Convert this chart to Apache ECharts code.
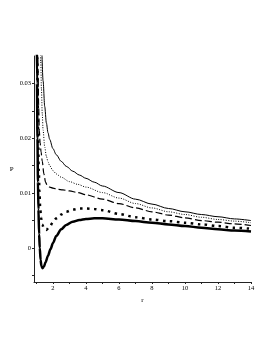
<!DOCTYPE html>
<html><head><meta charset="utf-8">
<script src="https://cdn.jsdelivr.net/npm/echarts@6/dist/echarts.min.js"></script>
<style>html,body{margin:0;padding:0;background:#fff}#c{width:273px;height:353px}</style>
</head><body><div id="c"></div>
<script>
// thin solid
var rA = [1.2, 1.3, 1.4, 1.5, 1.6, 1.7, 1.8, 2.0, 2.2, 2.5, 2.8, 3.2, 3.6, 4, 4.5, 5, 6, 7, 8, 9, 10, 11, 12, 13, 14];
var pA = [0.046, 0.037, 0.0305, 0.0258, 0.0228, 0.0210, 0.0198, 0.0181, 0.0170, 0.0158, 0.0149, 0.0140, 0.0133, 0.0127, 0.0120, 0.0113, 0.0101, 0.0089, 0.0080, 0.0072, 0.0066, 0.0061, 0.0057, 0.0053, 0.0050];
// small dotted
var rB = [1.18, 1.22, 1.26, 1.3, 1.35, 1.4, 1.5, 1.6, 1.7, 1.8, 2.0, 2.2, 2.5, 3.0, 3.5, 4, 5, 6, 7, 8, 9, 10, 11, 12, 13, 14];
var pB = [0.048, 0.040, 0.034, 0.029, 0.0245, 0.0215, 0.0184, 0.0167, 0.0157, 0.0150, 0.0141, 0.0135, 0.0129, 0.0121, 0.0116, 0.0111, 0.0101, 0.0091, 0.0081, 0.0073, 0.0066, 0.0061, 0.0056, 0.0052, 0.0049, 0.0046];
// dashed
var rC = [1.07, 1.1, 1.13, 1.17, 1.22, 1.28, 1.35, 1.45, 1.55, 1.65, 1.8, 2.0, 2.3, 2.6, 3.0, 3.5, 4, 5, 6, 7, 8, 9, 10, 11, 12, 13, 14];
var pC = [0.040, 0.032, 0.026, 0.0215, 0.0192, 0.0175, 0.0158, 0.0135, 0.0120, 0.0114, 0.0111, 0.0109, 0.0107, 0.0106, 0.0104, 0.0101, 0.0097, 0.0089, 0.0081, 0.0073, 0.0066, 0.0060, 0.0055, 0.0050, 0.0047, 0.0044, 0.0041];
// big dots
var rD = [1.04, 1.07, 1.1, 1.14, 1.18, 1.22, 1.28, 1.35, 1.45, 1.6, 1.8, 2.0, 2.2, 2.5, 2.8, 3.2, 3.6, 4, 4.5, 5, 6, 7, 8, 9, 10, 11, 12, 13, 14];
var pD = [0.040, 0.028, 0.020, 0.0140, 0.0105, 0.0075, 0.0055, 0.0043, 0.0036, 0.0033, 0.0039, 0.0047, 0.0054, 0.0061, 0.0066, 0.0070, 0.0072, 0.0072, 0.0071, 0.0069, 0.0062, 0.0056, 0.0052, 0.0049, 0.0046, 0.0043, 0.0040, 0.0037, 0.0035];
// thick solid
var rE = [1.0, 1.03, 1.06, 1.09, 1.12, 1.16, 1.2, 1.25, 1.3, 1.37, 1.45, 1.55, 1.7, 1.85, 2.0, 2.2, 2.5, 2.8, 3.2, 3.6, 4, 4.5, 5, 6, 7, 8, 9, 10, 11, 12, 13, 14];
var pE = [0.045, 0.030, 0.020, 0.012, 0.0070, 0.0025, 0.0000, -0.0022, -0.0033, -0.0037, -0.0034, -0.0026, -0.0014, -0.0002, 0.0009, 0.0022, 0.0034, 0.0042, 0.0048, 0.0051, 0.0053, 0.0054, 0.0054, 0.0052, 0.0049, 0.0046, 0.0043, 0.0040, 0.0037, 0.0034, 0.0032, 0.0030];

var xTicks = [1,2,3,4,5,6,7,8,9,10,11,12,13,14];
var xLabels = [2,4,6,8,10,12,14];
var yTicks = [-0.005,0,0.005,0.01,0.015,0.02,0.025,0.03];
var yLabels = [0,0.01,0.02,0.03];

function pairs(r,p){return r.map(function(v,i){return [v,p[i]];});}
var font = 'Liberation Serif';
var chart = echarts.init(document.getElementById('c'), null, {renderer:'canvas'});
function ser(r,p,w,dash,cap){
  return {type:'line', data:pairs(r,p), showSymbol:false, smooth:0.3, smoothMonotone:'x', clip:true,
    lineStyle:{color:'#000', width:w, type:dash||'solid', cap:cap||'butt'}};
}
chart.setOption({
  animation:false,
  backgroundColor:'#fff',
  grid:{left:34, right:22, top:56, bottom:71},
  xAxis:{type:'value', min:0.85, max:14, name:'r', nameLocation:'middle', nameGap:14,
    nameTextStyle:{fontFamily:font, fontSize:7, color:'#000'},
    axisLine:{onZero:false, lineStyle:{color:'#222', width:1}},
    axisTick:{customValues:xTicks, length:2, lineStyle:{color:'#222'}},
    axisLabel:{customValues:xLabels, fontFamily:font, fontSize:6.5, color:'#000', margin:3},
    splitLine:{show:false}},
  yAxis:{type:'value', min:-0.0062, max:0.035, name:'P', nameLocation:'middle', nameRotate:0, nameGap:20,
    nameTextStyle:{fontFamily:font, fontSize:7, color:'#000'},
    axisLine:{show:true, onZero:false, lineStyle:{color:'#222', width:1}},
    axisTick:{show:true, customValues:yTicks, length:2, lineStyle:{color:'#222'}},
    axisLabel:{customValues:yLabels, fontFamily:font, fontSize:6.5, color:'#000', margin:3,
      formatter:function(v){return v===0?'0':String(+v.toFixed(3));}},
    splitLine:{show:false}},
  series:[
    ser(rA,pA,1),
    ser(rB,pB,1,[1,1.5]),
    ser(rC,pC,1.2,[7,3]),
    ser(rD,pD,2.5,[2.5,4.5]),
    ser(rE,pE,2.5)
  ]
});
</script></body></html>
